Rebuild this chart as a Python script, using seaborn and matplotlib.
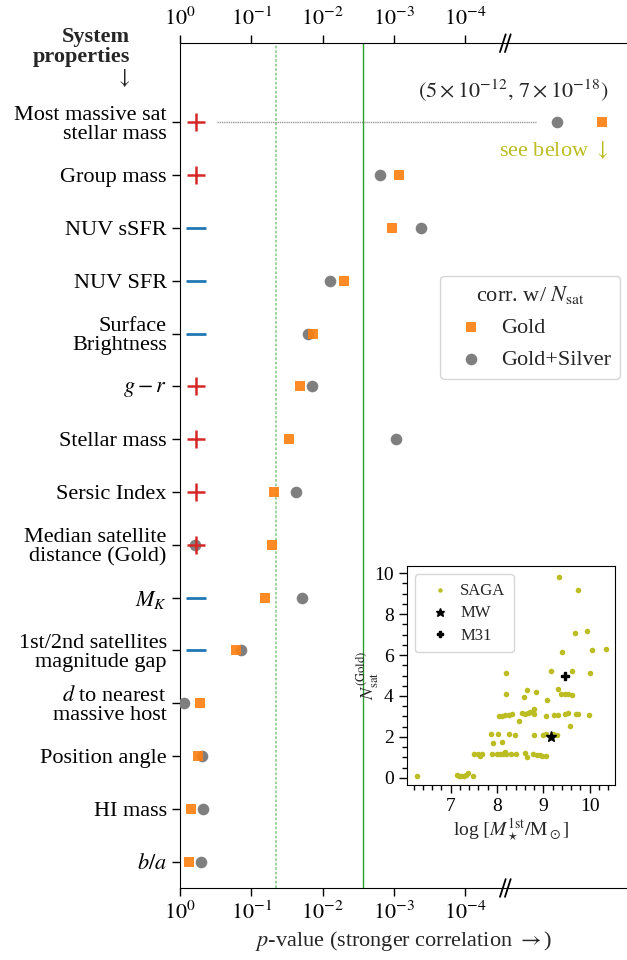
"""p-values of system properties vs N_sat, with inset of N_sat vs most massive satellite mass."""

import numpy as np
import pandas as pd
import seaborn as sns
import matplotlib.pyplot as plt
from matplotlib.ticker import MultipleLocator
from matplotlib.transforms import blended_transform_factory

sns.set_style("ticks")
plt.rcParams["font.family"] = ["Liberation Serif", "DejaVu Serif"]
plt.rcParams["mathtext.fontset"] = "stix"
plt.rcParams["font.size"] = 16

# ---- data -------------------------------------------------------------
PROPS = [
    "Most massive sat\nstellar mass", "Group mass", "NUV sSFR", "NUV SFR",
    "Surface\nBrightness", "$g-r$", "Stellar mass", "Sersic Index",
    "Median satellite\ndistance (Gold)", "$M_K$",
    "1st/2nd satellites\nmagnitude gap", "$d$ to nearest\nmassive host",
    "Position angle", "HI mass", "$b/a$",
]
SIGNS = ["+", "+", "-", "-", "-", "+", "+", "+", "+", "-", "-", "", "", "", ""]
P_GOLD = [7e-18, 8.5e-4, 1.07e-3, 5.1e-3, 1.38e-2, 2.1e-2, 3.0e-2, 4.8e-2,
          5.2e-2, 6.5e-2, 0.166, 0.525, 0.55, 0.69, 0.74]
P_GOLDSILVER = [5e-12, 1.58e-3, 4.2e-4, 7.9e-3, 1.58e-2, 1.41e-2, 9.5e-4,
                2.4e-2, 0.61, 1.95e-2, 0.138, 0.88, 0.49, 0.48, 0.50]
P_2SIG, P_3SIG = 0.0455, 0.0027

# inset: SAGA hosts
SAGA_LOGM = [6.27, 7.14, 7.18, 7.23, 7.28, 7.32, 7.37, 7.48,
             7.50, 7.59, 7.63, 7.67, 7.90, 8.01, 8.06, 8.12, 8.15, 8.17,
             8.20, 8.30, 8.42, 8.60, 8.64, 8.78, 8.87, 8.93, 8.98, 9.06,
             7.91, 8.11,
             7.88, 8.03, 8.26, 8.38, 8.81, 8.99, 9.06, 9.21, 9.29, 9.58, 8.47,
             8.04, 8.10, 8.17, 8.26, 8.33, 8.53, 8.61, 8.66, 8.71, 8.80,
             9.05, 9.23, 9.32, 9.48, 9.53, 9.71, 9.76, 9.99, 8.81, 9.07,
             8.20, 8.58, 8.65, 8.85, 9.32, 9.38, 9.48, 9.53, 9.63,
             8.19, 9.16, 9.61, 10.02,
             9.41, 10.05, 10.35,
             9.68, 9.94,
             9.74, 9.33]
SAGA_NSAT = [0.10, 0.15, 0.07, 0.08, 0.10, 0.15, 0.25, 0.07,
             1.14, 1.14, 1.07, 1.16, 1.14, 1.14, 1.16, 1.14, 1.22, 1.27,
             1.14, 1.14, 1.14, 1.19, 1.02, 1.16, 1.11, 1.11, 1.07, 1.05,
             1.71, 1.76,
             2.12, 2.12, 2.12, 2.10, 2.10, 2.10, 2.12, 2.12, 2.10, 2.55, 2.77,
             3.03, 3.03, 3.09, 3.09, 3.14, 3.17, 3.14, 3.17, 3.22, 3.11,
             3.03, 3.06, 3.09, 3.11, 3.17, 3.14, 3.14, 3.06, 3.35, 3.82,
             4.12, 3.95, 4.31, 4.20, 4.33, 4.12, 4.08, 4.12, 4.07,
             5.12, 5.22, 5.20, 5.12,
             6.15, 6.26, 6.28,
             7.09, 7.16,
             9.17, 9.82]
MW_LOGM, MW_NSAT = [9.17], [2.0]
M31_LOGM, M31_NSAT = [9.46], [5.0]

# ---- style ------------------------------------------------------------
ORANGE = "#ff7f0e"
GRAY = "#7f7f7f"
OLIVE = "#bcbd22"
GREEN = "#2ca02c"
BREAK = 4.56      # where the x axis is broken (in -log10 p)
SQUEEZE = 0.1077  # compression of the axis beyond the break
SIGN_X = 0.22


def to_axis(p):
    v = -np.log10(np.asarray(p, dtype=float))
    return np.where(v > BREAK, BREAK + (v - BREAK) * SQUEEZE, v)


df = pd.DataFrame({
    "row": np.arange(len(PROPS)),
    "gold": to_axis(P_GOLD),
    "goldsilver": to_axis(P_GOLDSILVER),
    "sign": SIGNS,
})

fig = plt.figure(figsize=(6.27, 9.6), dpi=100)
ax = fig.add_axes([0.287, 0.075, 0.713, 0.88])

ax.axvline(-np.log10(P_2SIG), color=GREEN, ls=(0, (1.5, 1)), lw=1.3,
           alpha=0.5, zorder=1)
ax.axvline(-np.log10(P_3SIG), color=GREEN, lw=1.0, zorder=1)

# guide line for the off-scale row
ax.plot([0.52, df.goldsilver[0] - 0.3], [0, 0], color="gray",
        ls=(0, (1, 0.6)), lw=1.0, alpha=0.8, zorder=1)

sns.scatterplot(data=df, x="goldsilver", y="row", ax=ax, marker="o",
                color=GRAY, s=70, linewidth=0, label="Gold+Silver", zorder=3)
sns.scatterplot(data=df, x="gold", y="row", ax=ax, marker="s",
                color=ORANGE, s=62, linewidth=0, alpha=0.9, label="Gold",
                zorder=4)

pos = df[df.sign == "+"]
neg = df[df.sign == "-"]
ax.plot([SIGN_X] * len(pos), pos.row, ls="none", marker="+", ms=13,
        mew=1.8, color="#d62728", zorder=5)
ax.plot([SIGN_X] * len(neg), neg.row, ls="none", marker="_", ms=14,
        mew=2.0, color="#1f77b4", zorder=5)

ax.set_xlim(0, 6.265)
ax.set_ylim(14.5, -1.5)
ax.set_xticks(range(5))
ax.set_xticklabels([r"$10^{0}$", r"$10^{-1}$", r"$10^{-2}$",
                    r"$10^{-3}$", r"$10^{-4}$"])
ax.set_yticks(df.row)
ax.set_yticklabels(PROPS, linespacing=1.0)
ax.tick_params(axis="x", top=True, labeltop=True, direction="out",
               length=6, width=1, labelsize=16, colors="k")
ax.tick_params(axis="y", direction="out", length=6, width=1,
               labelsize=16, colors="k")
ax.spines["right"].set_visible(False)
for s in ["left", "top", "bottom"]:
    ax.spines[s].set_color("k")
ax.set_xlabel(r"$p$-value (stronger correlation $\rightarrow$)", fontsize=16)
ax.set_ylabel("")

# axis break marks: two steep slashes across the top and bottom spines
tr = blended_transform_factory(ax.transData, ax.transAxes)
for yy in (0, 1):
    for dx in (-0.035, 0.035):
        ax.plot([BREAK + dx - 0.04, BREAK + dx + 0.04],
                [yy - 0.0105, yy + 0.0105], transform=tr, color="k",
                lw=1.3, clip_on=False, zorder=6)

ax.text(6.0, -0.6, r"$(5\times10^{-12},\, 7\times10^{-18})$", ha="right",
        va="center", fontsize=16)
ax.text(6.0, 0.52, r"see below $\downarrow$", ha="right", va="center",
        fontsize=16, color=OLIVE)
ax.text(-0.112, 0.982, "System\nproperties\n$\\downarrow$", transform=ax.transAxes,
        ha="right", va="center", multialignment="right", fontweight="bold",
        fontsize=16, linespacing=1.0)

handles, labels = ax.get_legend_handles_labels()
order = [labels.index("Gold"), labels.index("Gold+Silver")]
ax.legend([handles[i] for i in order], [labels[i] for i in order],
          title=r"corr. w/ $N_{\rm sat}$", loc="upper right",
          bbox_to_anchor=(0.985, 0.725), borderaxespad=0, fontsize=16,
          title_fontsize=16, frameon=True, handletextpad=0.35,
          handlelength=2.0)

# ---- inset ------------------------------------------------------------
axin = fig.add_axes([0.6487, 0.1823, 0.3322, 0.2281])
saga = pd.DataFrame({"logm": SAGA_LOGM, "nsat": SAGA_NSAT})
sns.scatterplot(data=saga, x="logm", y="nsat", ax=axin, color=OLIVE, s=16,
                linewidth=0, label="SAGA", zorder=2)
axin.plot(MW_LOGM, MW_NSAT, ls="none", marker="*", ms=8, color="k",
          label="MW", zorder=3)
axin.plot(M31_LOGM, M31_NSAT, ls="none", marker="P", ms=6, color="k",
          label="M31", zorder=3)
axin.set_xlim(6.05, 10.55)
axin.set_ylim(-0.35, 10.35)
axin.xaxis.set_major_locator(MultipleLocator(1))
axin.xaxis.set_minor_locator(MultipleLocator(0.2))
axin.yaxis.set_major_locator(MultipleLocator(2))
axin.yaxis.set_minor_locator(MultipleLocator(0.5))
axin.tick_params(which="major", direction="out", length=6, width=1,
                 labelsize=14, colors="k")
axin.tick_params(which="minor", direction="out", length=3.5, width=1,
                 colors="k")
for s in axin.spines.values():
    s.set_color("k")
axin.set_xlabel(r"log $[M_\star^{\rm 1st}/{\rm M}_\odot]$", fontsize=14,
                labelpad=1)
axin.set_ylabel(r"$N_{\rm sat}^{\rm (Gold)}$", fontsize=13, labelpad=-5)
axin.legend(loc="upper left", fontsize=12, handletextpad=0.2,
            borderpad=0.5, labelspacing=0.4, markerscale=0.8)

fig.savefig("out.png", dpi=100)
